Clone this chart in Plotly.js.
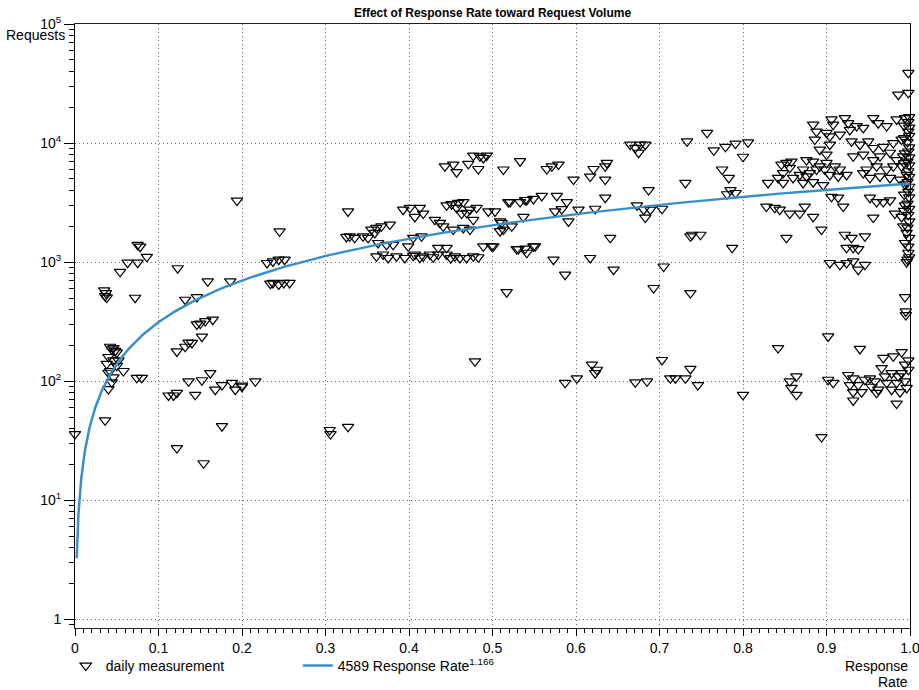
<!DOCTYPE html>
<html><head><meta charset="utf-8">
<script src="https://cdn.plot.ly/plotly-3.0.1.min.js"></script>
<style>html,body{margin:0;padding:0;background:#fff}#chart{width:919px;height:690px}</style>
</head><body><div id="chart"></div>
<script>
// Daily measurements: response rate (x) and request volume (y)
const rate = [
0.000,0.036,0.035,0.037,0.036,0.038,0.054,0.063,0.075,0.078,0.075,0.086,0.072,
0.042,0.044,0.048,0.050,0.046,0.040,0.046,0.052,0.038,0.050,0.042,0.040,0.058,0.046,0.044,0.040,0.074,0.080,
0.123,0.132,0.146,0.159,0.186,0.165,0.156,0.150,0.146,0.152,0.136,0.140,0.132,0.122,0.162,0.136,0.152,0.176,0.168,0.188,0.192,0.200,0.112,0.118,0.122,0.144,0.176,0.122,0.154,0.194,
0.216,0.200,0.230,0.237,0.244,0.251,0.245,0.234,0.237,0.244,0.250,0.257,0.305,0.306,0.327,0.327,
0.325,0.329,0.335,0.345,0.351,0.355,0.361,0.367,0.377,0.359,
0.361,0.369,0.375,0.363,0.373,0.381,0.385,0.395,0.399,0.393,0.401,
0.443,0.453,0.457,0.471,0.477,0.483,0.485,0.493,0.489,
0.413,0.407,0.417,0.431,0.437,0.441,0.445,0.451,0.465,0.457,0.463,0.473,0.477,0.481,0.495,0.503,0.453,0.465,0.473,0.459,0.469,
0.405,0.415,0.405,0.407,0.417,0.425,0.435,0.445,0.455,0.461,0.469,0.477,0.489,0.499,0.435,0.445,0.413,0.429,0.450,0.483,
0.513,0.533,0.565,0.571,0.579,0.597,
0.509,0.511,0.509,0.523,0.537,0.513,
0.519,0.521,0.533,0.539,0.541,0.549,0.559,0.577,0.589,
0.575,0.583,0.603,0.591,
0.529,0.531,0.539,0.541,0.549,0.551,0.501,0.573,0.587,0.517,
0.617,0.621,0.635,0.637,0.635,0.665,0.671,0.677,0.683,0.675,
0.635,0.623,0.673,0.681,0.689,0.683,0.687,0.617,0.641,0.645,0.693,
0.587,0.601,0.619,0.625,0.623,0.671,0.685,0.479,
0.703,0.705,0.733,0.757,0.765,0.779,0.791,0.731,0.775,0.783,0.785,0.791,0.781,
0.739,0.749,0.737,0.787,0.737,0.703,0.713,0.719,0.731,0.737,0.746,0.800,0.806,0.800,
0.842,0.864,0.856,0.858,0.864,0.894,0.902,
0.828,0.838,0.844,0.856,0.868,0.874,0.884,0.894,0.852,
0.830,0.842,0.846,0.852,0.858,0.856,0.848,0.860,0.848,0.868,0.872,0.876,0.884,0.876,0.872,0.884,0.880,0.888,0.892,0.896,
0.884,0.888,0.886,0.892,0.900,0.904,
0.906,0.908,0.922,0.926,0.928,0.916,0.936,0.944,0.956,0.962,0.972,0.984,0.994,0.904,0.900,0.900,0.904,0.910,0.916,0.924,0.914,0.898,
0.930,0.940,0.950,0.956,0.968,0.980,0.990,
0.932,0.944,0.956,0.964,0.976,0.984,0.992,
0.948,0.960,0.972,0.980,0.990,0.944,
0.952,0.964,0.976,0.988,0.996,
0.906,0.914,0.920,0.952,0.960,0.968,0.976,0.956,0.982,0.990,0.992,0.996,0.994,0.998,0.996,0.994,0.995,0.995,
0.922,0.930,0.946,0.924,0.932,0.938,
0.904,0.916,0.924,0.932,0.938,0.946,0.940,
0.902,0.908,0.926,0.932,0.928,0.938,0.932,0.942,0.932,0.952,0.958,0.962,0.966,0.968,0.980,0.990,0.978,0.972,0.984,0.978,0.988,0.984,0.994,0.990,0.994,0.996,0.960,0.954,0.946,0.970,0.986,0.998,0.998,
0.998,0.986,0.998,0.999,0.998,0.999,0.998,0.999,0.997,0.999,0.998,0.999,0.997,0.999,0.998,0.999,0.997,0.999,0.998,0.999,0.997,0.999,0.998,0.999,0.997,0.999,0.998,0.999,0.997,
0.993,0.993,0.994,0.993,0.994,0.993,0.994,0.993
];
const requests = [
36,47,580,550,520,505,830,990,990,1350,1400,1110,503,
195,185,180,175,190,160,150,150,140,135,122,118,122,108,98,86,107,107,
890,484,510,690,690,329,320,305,300,237,211,210,195,178,117,100,102,93,85,97,85,92,76,76,80,77,42,27.5,20.5,3290,
100,90,985,1015,1050,1050,1815,660,670,650,670,670,39,36,41.5,2670,
1630,1650,1600,1650,1600,1880,1940,2000,2070,1760,
1120,1160,1085,1450,1400,1400,1120,1085,1360,2760,2860,
6380,6600,5700,6690,7850,6060,7750,7850,7500,
2860,2400,2560,2270,2140,2000,3000,3070,3200,2860,2560,2760,2270,2860,2670,2670,1880,1940,1880,3150,2600,
1600,1650,1130,1160,1120,1160,1160,1160,1120,1085,1085,1120,1360,1360,1320,1320,1090,1100,1080,1100,
6000,7050,6060,6380,6600,4940,
2200,2140,1820,2000,2400,1880,
3200,3200,3200,3330,3330,3400,3600,3600,3200,
2670,2790,2760,2200,
1290,1290,1300,1200,1360,1360,1360,1050,785,560,
5230,6060,6380,6820,4940,9700,9130,9700,9700,8300,
3480,2810,3000,2760,2760,2370,4030,1085,1600,865,607,
97,106,138,125,117,98,100,147,
2810,920,10350,12200,8700,9300,9900,4630,6000,5100,4030,3810,3720,
1700,1700,1650,1320,550,151,106,106,106,127,93,77,10150,7680,
190,110,100,88,77,34,238,
2930,2860,2760,2560,2560,2930,2400,1880,1600,
4630,5100,6600,6820,7000,6200,5600,5100,4630,5400,6000,7200,7000,5250,4630,4700,5600,6000,6380,4440,
14300,12500,10700,8800,12200,11400,
15800,14300,16200,14700,12900,11800,13900,13400,16200,14700,13900,15800,16200,9700,8000,6820,5400,6380,6000,5400,5250,6000,
10350,9700,10350,9100,9300,10000,10700,
7750,8000,7200,7750,8300,7200,7750,
6000,6380,6000,6380,6380,5600,
5100,5250,5100,4940,5400,
3540,3480,2930,3480,3200,3200,3300,2370,2560,2400,2000,1760,1450,1200,1000,510,386,360,
1700,1600,1650,1320,1320,1290,
985,950,985,1015,865,950,187,
103,97,113,106,93,93,81,81,69,106,100,85,129,157,162,176,117,97,97,85,81,65,138,117,100,88,80,90,103,110,110,125,150,
38900,25500,26400,16500,15000,13500,12500,11500,10200,9200,8500,7600,7000,6500,5800,5200,4700,4300,3900,3500,3100,2800,2500,2200,1950,1600,1350,1100,1050,
14000,11000,8200,6800,4500,3700,3000,2700
];

// Fitted power model shown in the legend: 4589 * rate^1.166
const fitCoef = 4589;
const fitExp = 1.166;
const fitStart = 0.002;

const xTickVals = [0,0.1,0.2,0.3,0.4,0.5,0.6,0.7,0.8,0.9,1.0];
const xTickText = ['0','0.1','0.2','0.3','0.4','0.5','0.6','0.7','0.8','0.9','1.0'];
const yTickVals = [1,10,100,1000,10000,100000];
const yTickText = ['1','10<sup>1</sup>','10<sup>2</sup>','10<sup>3</sup>','10<sup>4</sup>','10<sup>5</sup>'];

const fitX = [], fitY = [];
const N = 300;
for (let i = 0; i <= N; i++) {
  const x = fitStart * Math.pow(1 / fitStart, i / N);
  fitX.push(x); fitY.push(fitCoef * Math.pow(x, fitExp));
}
// minor tick positions (axis furniture)
const yMinor = [];
for (let d = -1; d < 5; d++) for (let k = 2; k <= 9; k++) yMinor.push(k * Math.pow(10, d));
const xMinor = [];
for (let i = 1; i < 100; i++) if (i % 10 !== 0) xMinor.push(i / 100);

const FONT = 'Liberation Sans, Arial, Helvetica, sans-serif';
const Y_RANGE = [-0.0714, 5];
const GRID = '#6a6a6a', DASH = '1px,3px';

const traces = [
  {x: rate, y: requests, type: 'scatter', mode: 'markers', name: 'daily measurement',
   marker: {symbol: 'triangle-down-open', size: 10, color: '#000', line: {width: 1.2, color: '#000'}},
   cliponaxis: false},
  {x: fitX, y: fitY, type: 'scatter', mode: 'lines', name: '4589 Response Rate<sup>1.166</sup>',
   line: {color: '#3b8fc7', width: 2.5}},
  {x: [null], y: [null], xaxis: 'x2', yaxis: 'y2', type: 'scatter', mode: 'markers', showlegend: false, hoverinfo: 'skip'}
];

const layout = {
  width: 919, height: 690,
  margin: {l: 75, r: 9, t: 24, b: 62},
  paper_bgcolor: '#fff', plot_bgcolor: '#fff',
  font: {family: FONT, size: 14, color: '#000'},
  title: {text: '<b>Effect of Response Rate toward Request Volume</b>', font: {family: FONT, size: 12, color: '#000'},
          x: 0.5, xref: 'paper', y: 0.982, yanchor: 'middle'},
  showlegend: true,
  legend: {orientation: 'h', xref: 'container', yref: 'container', x: 0.0716, xanchor: 'left', y: 0.058, yanchor: 'top',
           entrywidth: 187, entrywidthmode: 'pixels', font: {family: FONT, size: 14},
           bgcolor: 'rgba(0,0,0,0)'},
  xaxis: {range: [0, 1], tickmode: 'array', tickvals: xTickVals, ticktext: xTickText,
          ticks: 'outside', ticklen: 7, tickcolor: '#000', tickwidth: 1, ticklabeloverflow: 'allow',
          showline: true, linecolor: '#222', linewidth: 1.3, mirror: true,
          showgrid: true, gridcolor: GRID, griddash: DASH, gridwidth: 1, zeroline: false,
          tickfont: {family: FONT, size: 14}},
  yaxis: {type: 'log', range: Y_RANGE, tickmode: 'array', tickvals: yTickVals, ticktext: yTickText,
          ticks: 'outside', ticklen: 10, tickcolor: '#000', tickwidth: 1, ticklabeloverflow: 'allow',
          showline: true, linecolor: '#000', linewidth: 1, mirror: true,
          showgrid: true, gridcolor: GRID, griddash: DASH, gridwidth: 1, zeroline: false,
          tickfont: {family: FONT, size: 14}},
  xaxis2: {overlaying: 'x', anchor: 'y2', side: 'bottom', range: [0, 1], tickmode: 'array', tickvals: xMinor,
           ticks: 'outside', ticklen: 4, tickcolor: '#000', showticklabels: false, showgrid: false,
           zeroline: false, showline: false},
  yaxis2: {overlaying: 'y', anchor: 'x2', side: 'left', type: 'log', range: Y_RANGE, tickmode: 'array', tickvals: yMinor,
           ticks: 'outside', ticklen: 5, tickcolor: '#000', showticklabels: false, showgrid: false,
           zeroline: false, showline: false},
  annotations: [
    {text: 'Requests', xref: 'paper', yref: 'paper', x: -0.009, y: 0.9818, xanchor: 'right', yanchor: 'middle',
     showarrow: false, font: {family: FONT, size: 14}},
    {text: 'Response', xref: 'paper', yref: 'paper', x: 1.0, y: -0.0629, xanchor: 'right', yanchor: 'middle',
     showarrow: false, font: {family: FONT, size: 14}},
    {text: 'Rate', xref: 'paper', yref: 'paper', x: 1.0, y: -0.0894, xanchor: 'right', yanchor: 'middle',
     showarrow: false, font: {family: FONT, size: 14}}
  ]
};

Plotly.newPlot('chart', traces, layout, {displayModeBar: false, staticPlot: true});
</script>
</body></html>
